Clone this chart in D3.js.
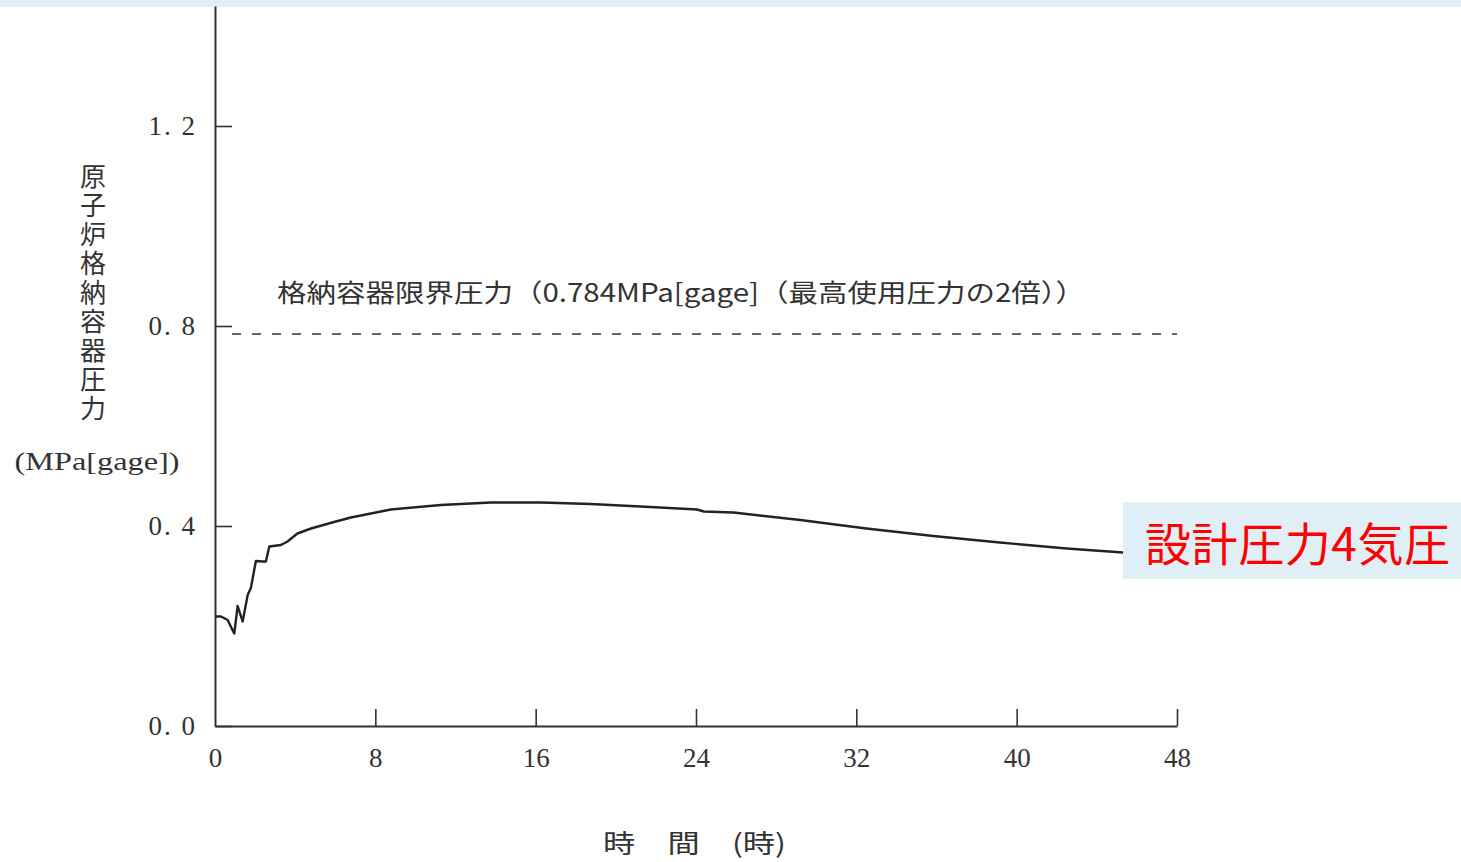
<!DOCTYPE html>
<html>
<head>
<meta charset="utf-8">
<script src="https://cdn.jsdelivr.net/npm/d3@7"></script>
<style>
  body { margin: 0; background: #fff; }
  svg { display: block; }
</style>
</head>
<body>
<div id="container"></div>
<script>
let w = 1461;
let h = 862;

// time in hours and containment vessel pressure (MPa gage)
let hours = [0, 0.3, 0.63, 0.96, 1.13, 1.38, 1.63, 1.79, 2.04, 2.37, 2.54, 2.71,
  3.29, 3.62, 4.11, 4.79, 5.94, 6.78, 8.77, 11.27, 13.76, 16.25, 18.74, 21.23,
  24.06, 24.39, 25.87, 29.2, 32.5, 35.84, 39.16, 42.5, 45.3, 48];
let pressure = [0.219, 0.219, 0.212, 0.185, 0.24, 0.209, 0.262, 0.276, 0.33, 0.329, 0.329, 0.359,
  0.362, 0.369, 0.385, 0.395, 0.408, 0.417, 0.433, 0.442, 0.447, 0.447, 0.444, 0.439,
  0.433, 0.429, 0.427, 0.412, 0.395, 0.38, 0.367, 0.355, 0.347, 0.34];

let xTicks = [0, 8, 16, 24, 32, 40, 48];
let yTicks = [0, 0.4, 0.8, 1.2];
let limitValue = 0.784;

let limitLabel = "格納容器限界圧力（0.784MPa[gage]（最高使用圧力の2倍））";
let yTitle = "原子炉格納容器圧力";
let yUnit = "(MPa[gage])";
let xTitle = "時　間　(時)";
let noteText = "設計圧力4気圧";

let viz = d3.select("#container")
  .append("svg")
    .attr("width", w)
    .attr("height", h)
    .style("background-color", "#fff");

// light blue strip along the top
viz.append("rect")
  .attr("x", 0).attr("y", 0)
  .attr("width", w).attr("height", 7)
  .attr("fill", "#e0eef6");

let xScale = d3.scaleLinear().domain([0, 48]).range([215, 1177]);
let yScale = d3.scaleLinear().domain([0, 1.44]).range([726, 6]);

let axisColor = "#333";
let numFont = "'Liberation Serif', 'DejaVu Serif', serif";
let jpFont = "'Noto Sans CJK JP', sans-serif";

// x axis, ticks pointing up into the plot
let xAxis = d3.axisBottom(xScale)
  .tickValues(xTicks)
  .tickSizeInner(-17)
  .tickSizeOuter(0)
  .tickPadding(22)
  .tickFormat(d3.format("d"));
let xAxisGroup = viz.append("g").attr("class", "xaxis")
  .attr("transform", "translate(0," + yScale(0) + ")")
  .call(xAxis);

// y axis, ticks pointing right
let yAxis = d3.axisLeft(yScale)
  .tickValues(yTicks)
  .tickSizeInner(-17)
  .tickSizeOuter(0)
  .tickPadding(18)
  .tickFormat(function(d){ return d.toFixed(1).replace(".", ". "); });
let yAxisGroup = viz.append("g").attr("class", "yaxis")
  .attr("transform", "translate(" + xScale(0) + ",0)")
  .call(yAxis);

[xAxisGroup, yAxisGroup].forEach(function(g){
  g.select(".domain").attr("stroke", axisColor).attr("stroke-width", 2);
  g.selectAll(".tick line").attr("stroke", axisColor).attr("stroke-width", 1.6);
  g.selectAll(".tick text")
    .attr("fill", "#333")
    .style("font-family", numFont)
    .style("font-size", "27px");
});
yAxisGroup.selectAll(".tick text").style("letter-spacing", "2px");
xAxisGroup.selectAll(".tick").filter(function(d){ return d == 0; }).select("line").remove();

// limit pressure, dashed
viz.append("line")
  .attr("x1", xScale(0) + 17)
  .attr("x2", xScale(48))
  .attr("y1", yScale(limitValue))
  .attr("y2", yScale(limitValue))
  .attr("stroke", "#333")
  .attr("stroke-width", 1.6)
  .attr("stroke-dasharray", "9,11");

viz.append("text")
  .attr("x", 277)
  .attr("y", 302)
  .attr("textLength", 808)
  .attr("lengthAdjust", "spacingAndGlyphs")
  .attr("fill", "#333")
  .style("font-family", jpFont)
  .style("font-size", "25px")
  .text(limitLabel);

// the pressure curve
let lineMaker = d3.line()
  .x(function(d){ return xScale(d[0]); })
  .y(function(d){ return yScale(d[1]); });

let points = hours.map(function(t, i){ return [t, pressure[i]]; });

viz.append("path")
  .datum(points)
  .attr("d", lineMaker)
  .attr("fill", "none")
  .attr("stroke", "#222")
  .attr("stroke-width", 2.4)
  .attr("stroke-linejoin", "round");

// y axis title, written vertically
viz.append("text")
  .attr("x", 93)
  .attr("y", 163)
  .attr("fill", "#333")
  .style("writing-mode", "vertical-rl")
  .style("font-family", jpFont)
  .style("font-size", "26px")
  .style("letter-spacing", "3px")
  .text(yTitle);

viz.append("text")
  .attr("x", 97)
  .attr("y", 470)
  .attr("text-anchor", "middle")
  .attr("textLength", 165)
  .attr("lengthAdjust", "spacingAndGlyphs")
  .attr("fill", "#333")
  .style("font-family", numFont)
  .style("font-size", "26px")
  .text(yUnit);

// x axis title
viz.append("text")
  .attr("x", 603)
  .attr("y", 853)
  .attr("textLength", 183)
  .attr("lengthAdjust", "spacingAndGlyphs")
  .attr("fill", "#333")
  .style("font-family", jpFont)
  .style("font-size", "26px")
  .text(xTitle);

// annotation box at the right end of the curve
viz.append("rect")
  .attr("x", 1123)
  .attr("y", 502)
  .attr("width", w - 1123)
  .attr("height", 77)
  .attr("fill", "#e0eef6");

viz.append("text")
  .attr("x", 1145)
  .attr("y", 561)
  .attr("textLength", 305)
  .attr("lengthAdjust", "spacing")
  .attr("fill", "#ff0000")
  .style("font-family", jpFont)
  .style("font-size", "46px")
  .text(noteText);
</script>
</body>
</html>
